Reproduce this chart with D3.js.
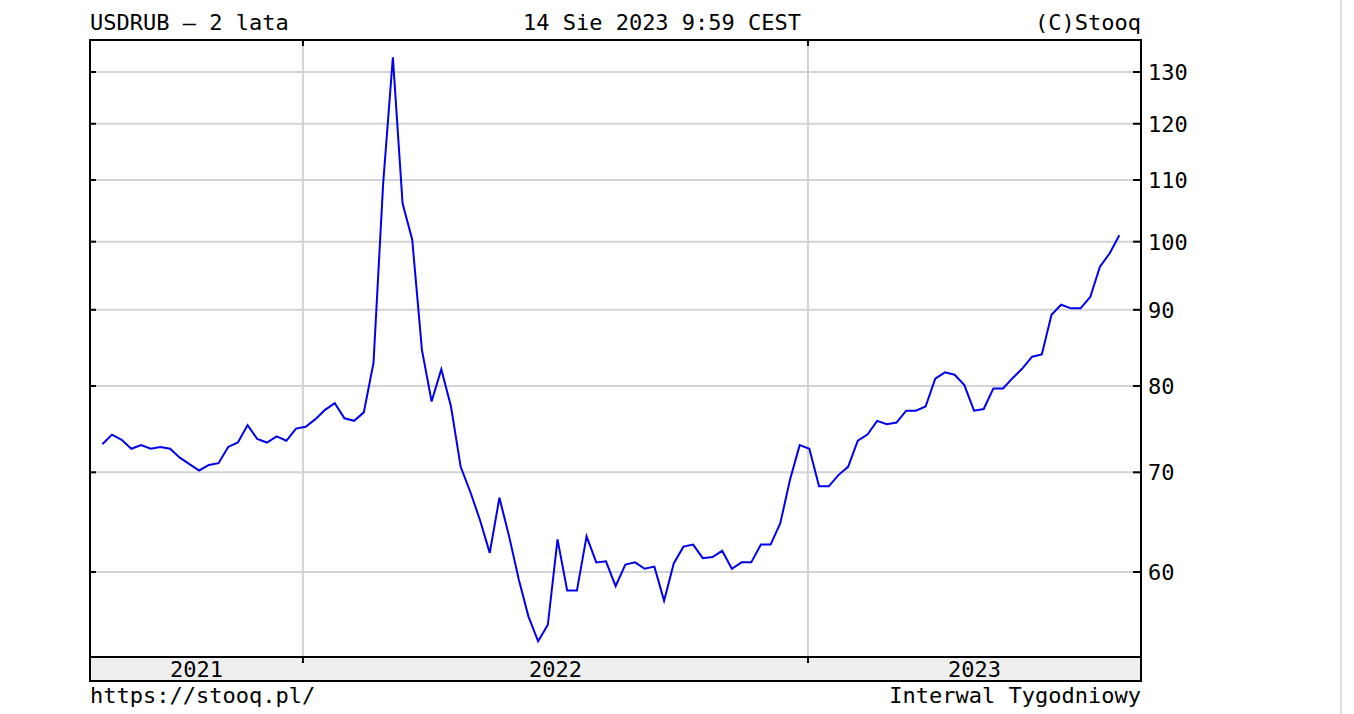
<!DOCTYPE html>
<html><head><meta charset="utf-8">
<script src="https://cdn.jsdelivr.net/npm/d3@7"></script>
<style>body{margin:0;background:#fff}svg text{font-family:"DejaVu Sans Mono",monospace;font-size:22px;fill:#000}</style>
</head><body>
<svg width="1354" height="714"></svg>
<script>
const lastDate = new Date(2023, 7, 14);
const values = [73.1,74.2,73.6,72.6,73.0,72.6,72.8,72.6,71.6,70.9,70.2,70.8,71.0,72.8,73.3,75.3,73.7,73.3,74.0,73.5,
  74.9,75.1,76.0,77.1,77.9,76.1,75.8,76.8,82.9,109.5,133.0,106.1,100.3,84.6,78.1,82.1,
  77.5,70.6,67.9,65.0,61.8,67.3,63.4,59.3,56.0,53.9,55.3,63.1,58.3,58.3,63.4,60.9,61.0,58.7,60.7,60.9,60.3,60.5,57.4,60.8,
  62.4,62.6,61.3,61.4,62.0,60.3,60.9,60.9,62.6,62.6,64.7,69.2,73.0,72.6,68.5,
  68.5,69.7,70.6,73.5,74.2,75.8,75.4,75.6,77.0,77.0,77.5,80.9,81.7,81.4,80.1,77.0,77.2,79.7,79.7,81.0,82.2,83.7,84.0,
  89.3,90.7,90.2,90.2,91.8,96.2,98.2,101.0];
const yTicks = [60,70,80,90,100,110,120,130];
const dates = values.map((v, i) => d3.timeWeek.offset(lastDate, i - values.length + 1));
const data = dates.map((d, i) => ({date: d, value: values[i]}));

const L = 90, R = 1141, T = 40, B = 657, BB = 681;
const svg = d3.select("svg");
const x = d3.scaleTime().domain([dates[0], lastDate]).range([102.3, 1119.3]);
const y = d3.scaleLog().domain([60, 130]).range([572, 72]);
const x0 = x.invert(L), x1 = x.invert(R);
const years = d3.timeYear.range(d3.timeYear.ceil(x0), x1);

svg.append("rect").attr("x", L).attr("y", B).attr("width", R - L).attr("height", BB - B).attr("fill", "#eeeeee");

svg.append("g").selectAll("line").data(yTicks).join("line")
  .attr("x1", L).attr("x2", R).attr("y1", d => y(d)).attr("y2", d => y(d))
  .attr("stroke", "#d3d3d3").attr("stroke-width", 2);
svg.append("g").selectAll("line").data(years).join("line")
  .attr("x1", d => x(d)).attr("x2", d => x(d)).attr("y1", T).attr("y2", B)
  .attr("stroke", "#d3d3d3").attr("stroke-width", 2);

// ticks
const tk = svg.append("g").attr("stroke", "#000").attr("stroke-width", 2);
yTicks.forEach(v => {
  tk.append("line").attr("x1", L).attr("x2", L + 6).attr("y1", y(v)).attr("y2", y(v));
  tk.append("line").attr("x1", R - 8).attr("x2", R).attr("y1", y(v)).attr("y2", y(v));
});
years.forEach(d => {
  tk.append("line").attr("x1", x(d)).attr("x2", x(d)).attr("y1", T).attr("y2", T + 6);
  tk.append("line").attr("x1", x(d)).attr("x2", x(d)).attr("y1", B).attr("y2", B + 6);
});

svg.append("path").datum(data)
  .attr("fill", "none").attr("stroke", "#0000ee").attr("stroke-width", 2)
  .attr("d", d3.line().x(d => x(d.date)).y(d => y(d.value)));

svg.append("rect").attr("x", L).attr("y", T).attr("width", R - L).attr("height", BB - T)
  .attr("fill", "none").attr("stroke", "#000").attr("stroke-width", 2);
svg.append("line").attr("x1", L).attr("x2", R).attr("y1", B).attr("y2", B).attr("stroke", "#000").attr("stroke-width", 2);

svg.append("g").selectAll("text").data(yTicks).join("text")
  .attr("x", 1148).attr("y", d => y(d) + 8).text(d => d);

// year labels centred in their visible segment
const bounds = [x0, ...years, x1];
const segs = years.map(d => d).concat([]);
const labelYears = [];
for (let i = 0; i < bounds.length - 1; i++) labelYears.push({a: bounds[i], b: bounds[i + 1]});
svg.append("g").selectAll("text").data(labelYears).join("text")
  .attr("x", d => (x(d.a) + x(d.b)) / 2).attr("y", 677).attr("text-anchor", "middle")
  .text(d => d3.timeFormat("%Y")(d.a));

svg.append("text").attr("x", L).attr("y", 30).text("USDRUB – 2 lata");
svg.append("text").attr("x", 662).attr("y", 30).attr("text-anchor", "middle").text("14 Sie 2023 9:59 CEST");
svg.append("text").attr("x", R).attr("y", 30).attr("text-anchor", "end").text("(C)Stooq");
svg.append("text").attr("x", L).attr("y", 703).text("https://stooq.pl/");
svg.append("text").attr("x", R).attr("y", 703).attr("text-anchor", "end").text("Interwal Tygodniowy");

svg.append("line").attr("x1", 1341).attr("x2", 1341).attr("y1", 0).attr("y2", 714).attr("stroke", "#ddd").attr("stroke-width", 2);
</script>
</body></html>
